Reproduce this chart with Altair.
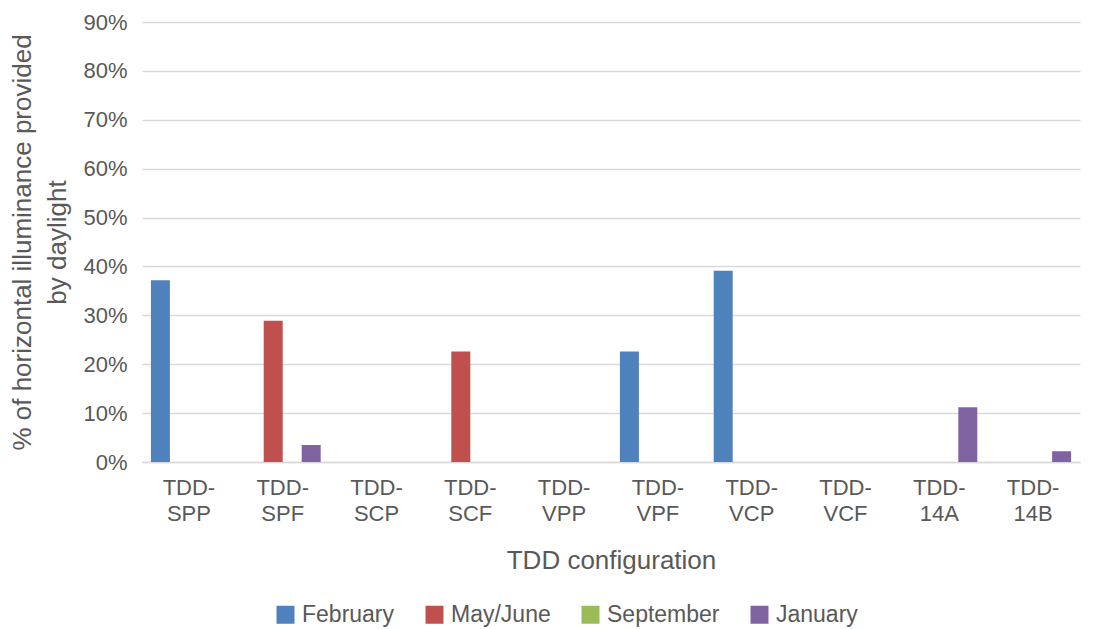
import altair as alt
import pandas as pd

categories = ["TDD-\nSPP", "TDD-\nSPF", "TDD-\nSCP", "TDD-\nSCF", "TDD-\nVPP",
              "TDD-\nVPF", "TDD-\nVCP", "TDD-\nVCF", "TDD-\n14A", "TDD-\n14B"]
series = ["February", "May/June", "September", "January"]
february = [0.372, 0, 0, 0, 0, 0.226, 0.391, 0, 0, 0]
may_june = [0, 0.289, 0, 0.226, 0, 0, 0, 0, 0, 0]
september = [0, 0, 0, 0, 0, 0, 0, 0, 0, 0]
january = [0, 0.035, 0, 0, 0, 0, 0, 0, 0.112, 0.022]
colors = ["#4f81bd", "#c0504d", "#9bbb59", "#8064a2"]

rows = []
for s, vals in zip(series, [february, may_june, september, january]):
    for c, v in zip(categories, vals):
        rows.append({"cat": c, "series": s, "value": v})
df = pd.DataFrame(rows)

FONT = "Liberation Sans"
GREY = "#595959"

chart = alt.Chart(df).mark_bar().encode(
    x=alt.X("cat:N", sort=categories,
            scale=alt.Scale(paddingInner=0.19, paddingOuter=0.095),
            axis=alt.Axis(title="TDD configuration", labelAngle=0,
                          labelExpr="split(datum.label, '\\n')",
                          labelFontSize=22, labelColor=GREY, labelFont=FONT,
                          labelLineHeight=26, labelPadding=15,
                          titleFontSize=26, titleFont=FONT, titleColor=GREY,
                          titleFontWeight="normal", titlePadding=23,
                          domainColor="#d9d9d9", domainWidth=1.5, ticks=False)),
    xOffset=alt.XOffset("series:N", sort=series,
                        scale=alt.Scale(paddingInner=0, paddingOuter=0)),
    y=alt.Y("value:Q",
            scale=alt.Scale(domain=[0, 0.9]),
            axis=alt.Axis(title=["% of horizontal illuminance provided", "by daylight"],
                          format=".0%", values=[i / 10 for i in range(10)],
                          labelFontSize=22, labelColor=GREY, labelFont=FONT,
                          labelPadding=15, domain=False, ticks=False,
                          gridColor="#d9d9d9", gridWidth=1.5,
                          titleFontSize=26, titleFont=FONT, titleColor=GREY,
                          titleFontWeight="normal", titlePadding=12,
                          titleLineHeight=35)),
    color=alt.Color("series:N", sort=series,
                    scale=alt.Scale(domain=series, range=colors),
                    legend=alt.Legend(title=None, orient="none", direction="horizontal",
                                      legendX=132, legendY=581,
                                      symbolType="square", symbolSize=324,
                                      symbolStrokeWidth=0,
                                      labelFontSize=23, labelFont=FONT, labelColor=GREY,
                                      columnPadding=28, labelOffset=5)),
).properties(
    width=938, height=440,
    padding={"left": 134, "top": 14, "right": 10, "bottom": 167},
    autosize=alt.AutoSizeParams(type="none"),
).configure_view(stroke=None)

chart.save("out.html", embed_options={"renderer": "svg", "actions": False})
